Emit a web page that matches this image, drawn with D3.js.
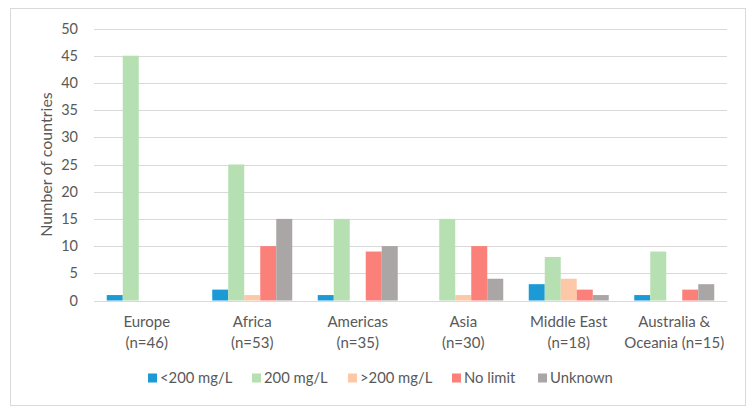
<!DOCTYPE html>
<html>
<head>
<meta charset="utf-8">
<script src="https://cdn.jsdelivr.net/npm/d3@7"></script>
<style>
  body { margin: 0; background: #fff; }
  svg text { font-family: Lato, "Open Sans", sans-serif; fill: #595959; }
</style>
</head>
<body>
<div id="chart"></div>
<script>
const regions = ["Europe", "Africa", "Americas", "Asia", "Middle East", "Australia &"];
const regionSub = ["(n=46)", "(n=53)", "(n=35)", "(n=30)", "(n=18)", "Oceania (n=15)"];
const seriesNames = ["<200 mg/L", "200 mg/L", ">200 mg/L", "No limit", "Unknown"];
const below200 = [1, 2, 1, 0, 3, 1];
const at200 = [45, 25, 15, 15, 8, 9];
const above200 = [0, 1, 0, 1, 4, 0];
const noLimit = [0, 10, 9, 10, 2, 2];
const unknown = [0, 15, 10, 4, 1, 3];
const yTicks = [0, 5, 10, 15, 20, 25, 30, 35, 40, 45, 50];

const colours = ["#1b9ad6", "#b6e0b2", "#fdc8a8", "#fc807a", "#aaa6a6"];
const seriesValues = [below200, at200, above200, noLimit, unknown];

const width = 756, height = 416;
const margin = { left: 94, right: 29, top: 28.5, bottom: 115.5 };

const svg = d3.select("#chart").append("svg")
    .attr("width", width)
    .attr("height", height);

// outer frame
svg.append("rect")
    .attr("x", 10.5).attr("y", 8.5)
    .attr("width", 735).attr("height", 397)
    .attr("fill", "none")
    .attr("stroke", "#d9d9d9")
    .attr("stroke-width", 1);

const x = d3.scaleBand()
    .domain(d3.range(regions.length))
    .range([margin.left, width - margin.right]);

const y = d3.scaleLinear()
    .domain([0, 50])
    .range([height - margin.bottom, margin.top]);

const barW = 16;
const xSub = d3.scaleBand()
    .domain(d3.range(seriesNames.length))
    .range([0, barW * seriesNames.length]);

// gridlines
svg.append("g")
    .selectAll("line")
    .data(yTicks)
    .join("line")
    .attr("x1", margin.left)
    .attr("x2", width - margin.right)
    .attr("y1", d => Math.round(y(d)) + 0.5)
    .attr("y2", d => Math.round(y(d)) + 0.5)
    .attr("stroke", "#d9d9d9")
    .attr("stroke-width", 1);

// y tick labels
svg.append("g")
    .selectAll("text")
    .data(yTicks)
    .join("text")
    .attr("x", 78)
    .attr("y", d => y(d))
    .attr("dy", "0.35em")
    .attr("text-anchor", "end")
    .style("font-size", "14.5px")
    .text(d => d);

// y axis title
svg.append("text")
    .attr("transform", `translate(52, ${y(25)}) rotate(-90)`)
    .attr("text-anchor", "middle")
    .style("font-size", "16px")
    .text("Number of countries");

// bars
const groups = svg.append("g")
    .selectAll("g")
    .data(regions.map((r, i) => i))
    .join("g")
    .attr("transform", i => `translate(${x(i) + x.bandwidth() / 2 - barW * seriesNames.length / 2}, 0)`);

groups.selectAll("rect")
    .data(i => seriesValues.map((vals, s) => ({ s: s, v: vals[i] })))
    .join("rect")
    .attr("x", d => xSub(d.s))
    .attr("width", barW)
    .attr("y", d => y(d.v))
    .attr("height", d => y(0) - y(d.v))
    .attr("fill", d => colours[d.s]);

// category labels
const catLabels = svg.append("g")
    .selectAll("text")
    .data(regions.map((r, i) => i))
    .join("text")
    .attr("x", i => x(i) + x.bandwidth() / 2)
    .attr("text-anchor", "middle")
    .style("font-size", "15px");

catLabels.append("tspan")
    .attr("x", i => x(i) + x.bandwidth() / 2)
    .attr("y", 327)
    .text(i => regions[i]);
catLabels.append("tspan")
    .attr("x", i => x(i) + x.bandwidth() / 2)
    .attr("y", 348)
    .text(i => regionSub[i]);

// legend
const legendX = [148, 252, 348, 452, 538];
const legend = svg.append("g")
    .selectAll("g")
    .data(seriesNames)
    .join("g")
    .attr("transform", (d, i) => `translate(${legendX[i]}, 378)`);

legend.append("rect")
    .attr("x", 0).attr("y", -4.5)
    .attr("width", 9).attr("height", 9)
    .attr("fill", (d, i) => colours[i]);

legend.append("text")
    .attr("x", 12)
    .attr("dy", "0.35em")
    .style("font-size", "14.8px")
    .text(d => d);
</script>
</body>
</html>
